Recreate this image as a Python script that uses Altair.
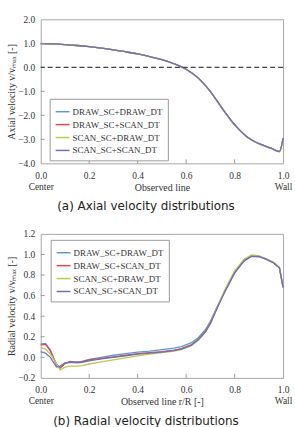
import altair as alt
import pandas as pd

series = ["DRAW_SC+DRAW_DT", "DRAW_SC+SCAN_DT", "SCAN_SC+DRAW_DT", "SCAN_SC+SCAN_DT"]
colors = ["#5b9bd5", "#e5484d", "#b8cc52", "#7070b4"]

# (a) axial velocity
axial_r = [0, 0.05, 0.1, 0.15, 0.2, 0.25, 0.3, 0.35, 0.4, 0.45, 0.5, 0.55,
           0.6, 0.65, 0.7, 0.75, 0.8, 0.85, 0.9, 0.95, 0.985, 1.0]
axial_1 = [0.99, 0.98, 0.95, 0.91, 0.86, 0.80, 0.73, 0.65, 0.56, 0.45, 0.32, 0.15,
           -0.08, -0.44, -1.00, -1.72, -2.38, -2.88, -3.17, -3.36, -3.50, -2.95]
axial_2 = [0.99, 0.98, 0.95, 0.91, 0.86, 0.80, 0.73, 0.65, 0.56, 0.45, 0.32, 0.15,
           -0.08, -0.45, -1.01, -1.73, -2.39, -2.89, -3.18, -3.37, -3.51, -2.96]
axial_3 = [0.98, 0.97, 0.95, 0.91, 0.86, 0.80, 0.73, 0.65, 0.56, 0.45, 0.32, 0.15,
           -0.09, -0.46, -1.02, -1.74, -2.40, -2.90, -3.19, -3.38, -3.52, -2.97]
axial_4 = [0.99, 0.98, 0.95, 0.91, 0.86, 0.80, 0.73, 0.65, 0.56, 0.45, 0.32, 0.15,
           -0.08, -0.45, -1.01, -1.73, -2.39, -2.89, -3.18, -3.37, -3.51, -2.96]

# (b) radial velocity
radial_r = [0, 0.02, 0.04, 0.065, 0.08, 0.1, 0.12, 0.15, 0.17, 0.2, 0.25, 0.3,
            0.35, 0.4, 0.45, 0.5, 0.55, 0.58, 0.62, 0.65, 0.68, 0.7, 0.73, 0.76,
            0.8, 0.84, 0.87, 0.9, 0.93, 0.96, 0.985, 1.0]
radial_1 = [0.13, 0.135, 0.07, -0.07, -0.10, -0.06, -0.04, -0.045, -0.04, -0.02, 0.0, 0.02,
            0.035, 0.05, 0.06, 0.075, 0.09, 0.105, 0.14, 0.19, 0.27, 0.35, 0.50, 0.64,
            0.82, 0.94, 0.985, 0.98, 0.955, 0.92, 0.87, 0.68]
radial_2 = [0.12, 0.125, 0.06, -0.07, -0.105, -0.06, -0.045, -0.05, -0.045, -0.025, -0.01, 0.005,
            0.02, 0.035, 0.045, 0.055, 0.07, 0.085, 0.12, 0.175, 0.255, 0.335, 0.495, 0.645,
            0.825, 0.945, 0.985, 0.98, 0.955, 0.92, 0.87, 0.68]
radial_3 = [0.095, 0.08, 0.03, -0.06, -0.125, -0.095, -0.085, -0.085, -0.08, -0.065, -0.045, -0.025,
            -0.005, 0.015, 0.03, 0.045, 0.06, 0.075, 0.11, 0.165, 0.245, 0.33, 0.50, 0.66,
            0.84, 0.955, 0.995, 0.985, 0.96, 0.925, 0.875, 0.68]
radial_4 = [0.055, 0.04, 0.0, -0.095, -0.085, -0.055, -0.05, -0.055, -0.05, -0.035, -0.015, 0.0,
            0.015, 0.03, 0.04, 0.05, 0.065, 0.08, 0.115, 0.17, 0.25, 0.33, 0.49, 0.64,
            0.82, 0.94, 0.98, 0.98, 0.955, 0.92, 0.87, 0.68]

x_ticks = [0, 0.2, 0.4, 0.6, 0.8, 1.0]
y1_ticks = [-4, -3, -2, -1, 0, 1, 2]
y2_ticks = [-0.2, 0.0, 0.2, 0.4, 0.6, 0.8, 1.0, 1.2]
x_end_names = ["Center", "Wall"]

serif = "Liberation Serif"
W, H = 244, 145


def long_df(r, cols):
    rows = []
    for s, vals in zip(series, cols):
        for i, (a, b) in enumerate(zip(r, vals)):
            rows.append({"r": a, "v": b, "series": s, "order": i})
    return pd.DataFrame(rows)


df1 = long_df(axial_r, [axial_1, axial_2, axial_3, axial_4])
df2 = long_df(radial_r, [radial_1, radial_2, radial_3, radial_4])

label_expr = (f"datum.value == 0 ? ['0.0', '{x_end_names[0]}'] : "
              f"datum.value == 1 ? ['1.0', '{x_end_names[1]}'] : datum.label")


def panel(df, yticks, ydomain, ytitle, xtitle, caption, legx, legy, interp, zero):
    xs = alt.Scale(domain=[0, 1], nice=False)
    ys = alt.Scale(domain=ydomain, nice=False)
    xaxis = alt.Axis(values=x_ticks, format=".1f", labelExpr=label_expr, labelFlush=False,
                     labelPadding=7, labelLineHeight=11, title=xtitle,
                     titleY=24, titleBaseline="middle")
    yaxis = alt.Axis(values=yticks, format=".1f", labelPadding=6, title=ytitle,
                     titleX=-29, titleY=H / 2, titleBaseline="middle")
    lines = alt.Chart(df).mark_line(strokeWidth=1.3, interpolate=interp).encode(
        x=alt.X("r:Q", scale=xs, axis=xaxis),
        y=alt.Y("v:Q", scale=ys, axis=yaxis),
        color=alt.Color("series:N", scale=alt.Scale(domain=series, range=colors),
                        legend=alt.Legend(
                            orient="none", legendX=legx, legendY=legy, title=None,
                            symbolType="stroke", symbolSize=196, symbolStrokeWidth=1.5,
                            labelFont=serif, labelFontSize=9, labelColor="#333",
                            strokeColor="#999", fillColor="white", padding=5,
                            rowPadding=0, labelOffset=2)),
        order="order:Q",
    )
    ytick_df = pd.DataFrame({"v": yticks[1:-1]})
    xtick_df = pd.DataFrame({"r": x_ticks[1:-1]})
    yt = alt.Chart(ytick_df).mark_rule(color="#999", strokeWidth=1).encode(
        y=alt.Y("v:Q", scale=ys, axis=yaxis), x=alt.value(0), x2=alt.value(4))
    xt = alt.Chart(xtick_df).mark_rule(color="#999", strokeWidth=1).encode(
        x=alt.X("r:Q", scale=xs, axis=xaxis), y=alt.value(H), y2=alt.value(H - 4))
    layers = [lines, yt, xt]
    if zero:
        zdf = pd.DataFrame({"v": [0]})
        layers.append(alt.Chart(zdf).mark_rule(color="#444", strokeDash=[5, 3], strokeWidth=1.1)
                      .encode(y=alt.Y("v:Q", scale=ys, axis=yaxis)))
    return alt.layer(*layers).properties(
        width=W, height=H,
        title=alt.TitleParams(text=caption, orient="bottom", font="DejaVu Sans",
                              fontSize=12, fontWeight="normal", color="#222",
                              offset=9, dx=-16))


p1 = panel(df1, y1_ticks, [-4, 2], "Axial velocity v/vₘₐₓ [-]", "Observed line",
           "(a) Axial velocity distributions", 9, 80, "monotone", True)
p2 = panel(df2, y2_ticks, [-0.2, 1.2], "Radial velocity v/vₘₐₓ [-]", "Observed line r/R [-]",
           "(b) Radial velocity distributions", 10, 6, "linear", False)

chart = alt.vconcat(p1, p2, spacing=71, bounds="flush").resolve_scale(
    color="independent").resolve_legend(color="independent").properties(
    padding={"left": 6, "top": 12, "right": 2, "bottom": 0},
    background="white",
).configure_view(stroke="#a6a6a6", strokeWidth=1).configure_axis(
    domain=False, ticks=False, tickSize=0, grid=False,
    labelFont=serif, labelFontSize=9.5, labelColor="#333",
    titleFont=serif, titleFontSize=10, titleFontWeight="normal", titleColor="#333",
)

chart.save("out.html", embed_options={"renderer": "svg", "actions": False})
